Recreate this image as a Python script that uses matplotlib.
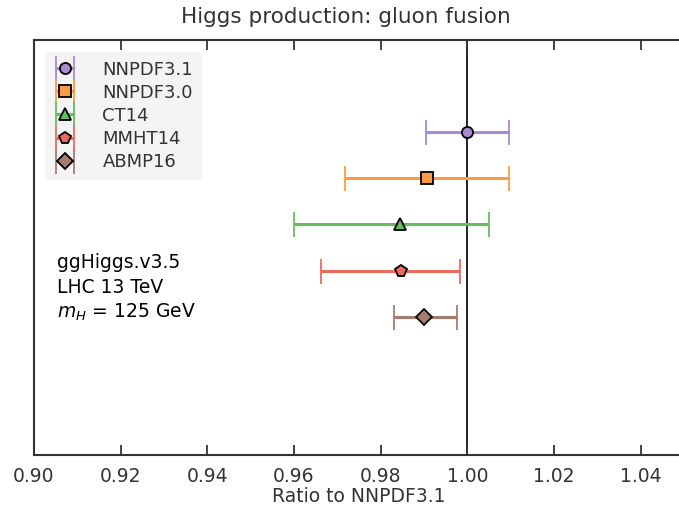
import matplotlib
matplotlib.use("Agg")
import matplotlib.pyplot as plt
import numpy as np

plt.rcParams["font.family"] = ["DejaVu Sans"]
plt.rcParams["mathtext.fontset"] = "dejavusans"

pdfs = ["NNPDF3.1", "NNPDF3.0", "CT14", "MMHT14", "ABMP16"]
central = [1.0000, 0.9907, 0.9845, 0.9848, 0.9901]
lower = [0.9905, 0.9718, 0.9600, 0.9663, 0.9830]
upper = [1.0095, 1.0096, 1.0051, 0.9982, 0.9975]
markers = ["o", "s", "^", "p", "D"]
colors = ["#a98bd2", "#fb9c45", "#62c05c", "#ec6a5e", "#a57c6d"]
ypos = [5, 4, 3, 2, 1]

fig = plt.figure(figsize=(6.79, 5.09), dpi=100)
ax = fig.add_axes([34 / 679, 54 / 509, 650 / 679, 415 / 509])

for name, c, lo, hi, m, col, y in zip(pdfs, central, lower, upper, markers, colors, ypos):
    ax.errorbar([c], [y], xerr=[[c - lo], [hi - c]], fmt=m, color=col,
                mfc=col, mec="black", mew=1.3, ms=8 if m != "p" else 8.5,
                elinewidth=2.2, capsize=9, capthick=1.6, label=name)

ax.axvline(1.0, color="#222222", lw=1.4, zorder=0)

ax.set_xlim(0.90, 1.05)
ax.set_ylim(-2, 7)
ticks = np.arange(0.90, 1.041, 0.02)
ax.set_xticks(ticks)
ax.set_xticklabels([f"{v:.2f}" for v in ticks])
ax.set_yticks([])
ax.tick_params(axis="x", direction="in", top=True, length=7, width=1.3,
               labelsize=13.5, colors="#333333", pad=9)
for s in ax.spines.values():
    s.set_color("#333333")
    s.set_linewidth(1.5)
ax.set_xlabel("Ratio to NNPDF3.1", fontsize=13.5, color="#333333", labelpad=0)
fig.text(345.5 / 679, 1 - 17 / 509, "Higgs production: gluon fusion", fontsize=15.5,
         color="#333333", ha="center", va="center")

ax.text(0.035, 0.486, "ggHiggs.v3.5\nLHC 13 TeV\n$m_H$ = 125 GeV", transform=ax.transAxes,
        fontsize=13.5, color="black", va="top", ha="left", linespacing=1.35)

leg = ax.legend(loc="upper left", fontsize=13, frameon=True, handlelength=1.3,
                borderpad=0.5, labelspacing=0.28, handletextpad=1.4,
                bbox_to_anchor=(0.008, 0.985), borderaxespad=0.3)
leg.get_frame().set_facecolor("#f4f4f4")
leg.get_frame().set_edgecolor("none")
leg.get_frame().set_alpha(1)
for t in leg.get_texts():
    t.set_color("#333333")

fig.savefig("out.png", dpi=100)
